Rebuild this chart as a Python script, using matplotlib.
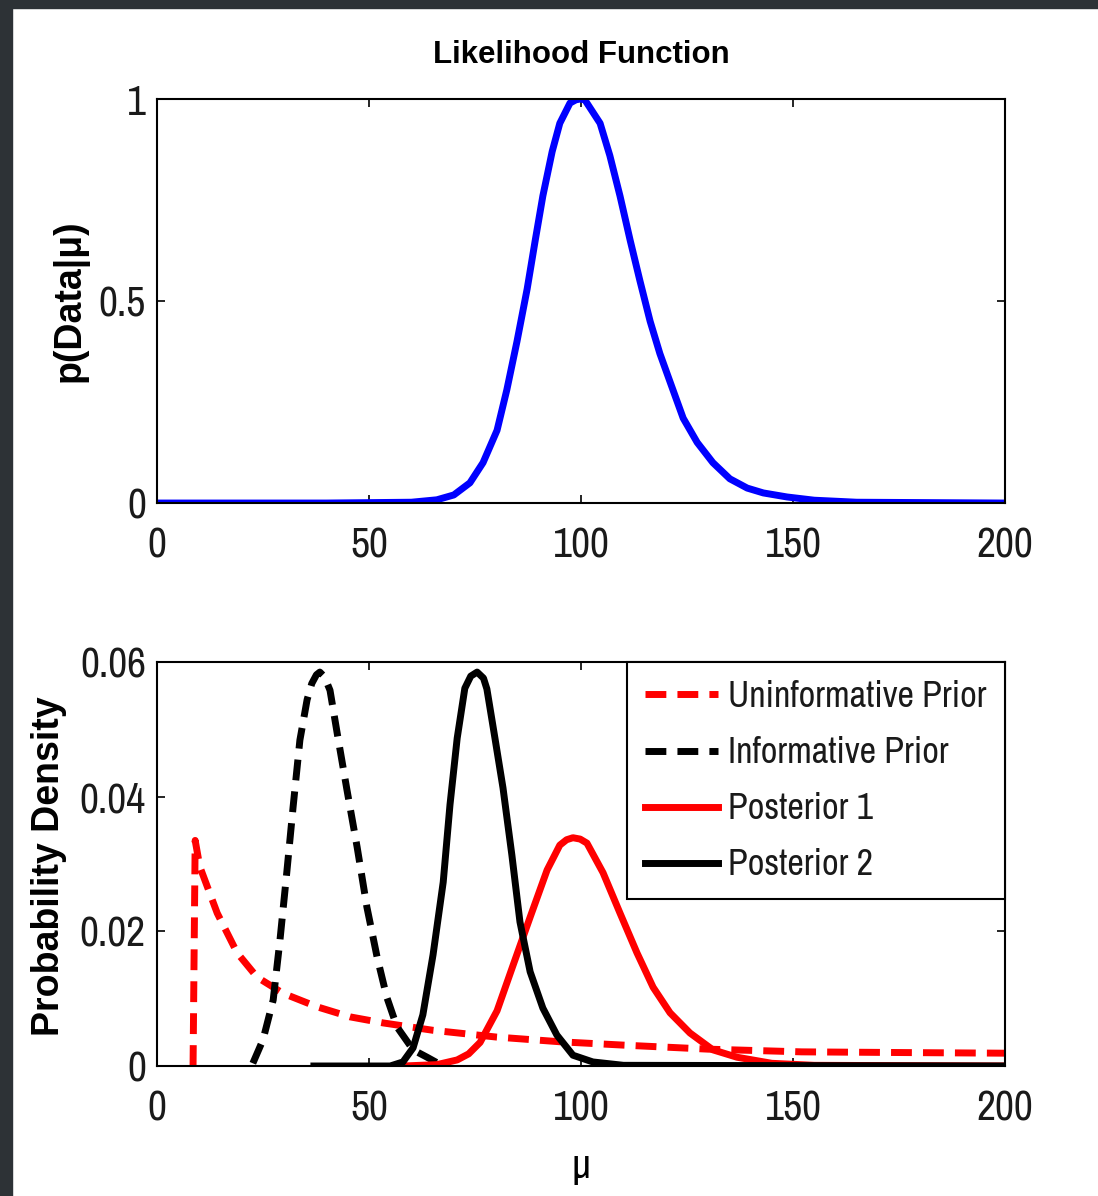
import matplotlib
matplotlib.use("Agg")
import matplotlib.pyplot as plt
from matplotlib.patches import Rectangle

# narrow face like the MATLAB export; Liberation Sans if it is missing
plt.rcParams["font.family"] = ["Archivo Narrow", "Liberation Sans", "DejaVu Sans"]
BOLD = ["Liberation Sans", "DejaVu Sans"]

FRAME = "#2d3236"
TXT = "#1a1a1a"

# likelihood p(Data|mu)
mu_like = [0, 40, 60, 66, 70, 73.8, 76.9, 80.2, 82.5, 84.9, 87.3, 89.2, 91.0, 93.2,
           95.0, 97.4, 98.8, 99.8, 100.9, 101.4, 104.5, 106.8, 109.2, 111.6, 113.9,
           116.3, 118.6, 121.0, 124.1, 127.4, 131.1, 135.1, 139.2, 143.0, 148.6,
           155, 165, 200]
like = [0, 0, 0.002, 0.008, 0.02, 0.05, 0.10, 0.18, 0.28, 0.40, 0.53, 0.65, 0.76, 0.87,
        0.94, 0.99, 0.998, 1.0, 0.998, 0.99, 0.94, 0.86, 0.76, 0.65, 0.55,
        0.45, 0.37, 0.30, 0.21, 0.15, 0.10, 0.06, 0.037, 0.025, 0.015,
        0.007, 0.002, 0]

# bottom panel densities
mu_uninf = [8.5, 9.0, 10.1, 14.2, 18.9, 23.6, 29.7, 37.7, 45.5, 53.3, 65.1, 80,
            95, 110, 130, 152, 175, 200]
uninf = [0, 0.0335, 0.0296, 0.0227, 0.0168, 0.0132, 0.0108, 0.0088, 0.0073, 0.0064,
         0.0053, 0.0043, 0.0036, 0.0031, 0.0025, 0.0021, 0.0020, 0.0019]

mu_inf = [22.6, 25.0, 27.4, 29.0, 30.6, 32.1, 33.7, 35.4, 36.5, 37.6, 38.4, 39.5,
          40.8, 42.5, 44.8, 47.2, 49.5, 51.9, 54.2, 56.6, 60.4, 63.7, 66]
inf = [0.0004, 0.0039, 0.0098, 0.0187, 0.0287, 0.0385, 0.0484, 0.0544, 0.0568,
       0.0581, 0.0585, 0.0578, 0.0558, 0.0494, 0.041, 0.0325, 0.0236, 0.0162,
       0.0102, 0.0058, 0.0024, 0.0013, 0.0005]

mu_post1 = [58, 66, 70.8, 73.5, 76.2, 80.2, 84.0, 88.0, 92.0, 95.0, 96.6, 98.1,
            99.8, 101.4, 105.2, 109.2, 113.2, 117.0, 121.0, 125.7, 131.1, 136.8,
            145, 155, 200]
post1 = [0, 0.0002, 0.0009, 0.0018, 0.0035, 0.0082, 0.015, 0.0221, 0.0291, 0.0328,
         0.0336, 0.0339, 0.0337, 0.0331, 0.0287, 0.0227, 0.0168, 0.0117, 0.0079,
         0.0049, 0.0024, 0.0013, 0.0004, 0.0001, 0]

mu_post2 = [37, 55, 58.0, 60.4, 62.7, 65.1, 67.5, 69.1, 70.8, 72.6, 74.0, 75.5,
            77.0, 77.8, 79.7, 81.6, 83.7, 85.6, 88.0, 91.0, 94.3, 98.1, 102.8,
            110, 200]
post2 = [0, 0, 0.0006, 0.0027, 0.0076, 0.0165, 0.0273, 0.0388, 0.0487, 0.0561,
         0.0579, 0.0585, 0.0576, 0.056, 0.0487, 0.0413, 0.0313, 0.0214, 0.014,
         0.0086, 0.0046, 0.0016, 0.0006, 0.0001, 0]

x_ticks = [0, 50, 100, 150, 200]
top_yticks = [0, 0.5, 1]
bot_yticks = [0, 0.02, 0.04, 0.06]

fig = plt.figure(figsize=(10.98, 11.96), dpi=100)
fig.patch.set_facecolor("white")
# dark window border along top and left
fig.patches.append(Rectangle((0, 1 - 8 / 1196), 1, 8 / 1196, transform=fig.transFigure,
                             color=FRAME, zorder=0))
fig.patches.append(Rectangle((0, 0), 12 / 1098, 1, transform=fig.transFigure,
                             color=FRAME, zorder=0))

ax1 = fig.add_axes([0.143, 0.5794, 0.7723, 0.3378])
ax2 = fig.add_axes([0.143, 0.1087, 0.7723, 0.3378])


def style(ax, yticks, ylim):
    ax.set_xlim(0, 200)
    ax.set_ylim(*ylim)
    ax.set_xticks(x_ticks)
    ax.set_yticks(yticks)
    ax.set_yticklabels([f"{v:g}" for v in yticks])
    ax.tick_params(direction="in", length=6, width=1.2, top=True, right=True,
                   labelsize=30, labelcolor=TXT)
    ax.tick_params(axis="x", pad=17)
    ax.tick_params(axis="y", pad=8)
    for s in ax.spines.values():
        s.set_linewidth(1.5)
        s.set_zorder(5)


ax1.plot(mu_like, like, color="#0000ff", lw=5, solid_joinstyle="round")
style(ax1, top_yticks, (0, 1))
ax1.set_title("Likelihood Function", fontsize=22.5, fontweight="bold",
              family=BOLD, pad=26)
ax1.set_ylabel("p(Data|μ)", fontsize=27, fontweight="bold", family=BOLD)
ax1.yaxis.set_label_coords(-0.081, 0.5)

ax2.plot(mu_uninf, uninf, color="red", lw=5, ls=(0, (3, 1.6)),
         label="Uninformative Prior")
ax2.plot(mu_inf, inf, color="black", lw=5, ls=(0, (3, 1.6)),
         label="Informative Prior")
ax2.plot(mu_post1, post1, color="red", lw=5, label="Posterior 1")
ax2.plot(mu_post2, post2, color="black", lw=5, label="Posterior 2")
style(ax2, bot_yticks, (0, 0.06))
ax2.set_ylabel("Probability Density", fontsize=27, fontweight="bold", family=BOLD)
ax2.yaxis.set_label_coords(-0.106, 0.495)
ax2.set_xlabel("μ", fontsize=30)
ax2.xaxis.set_label_coords(0.5, -0.20)

leg = ax2.legend(loc="upper right", fontsize=26, frameon=True, fancybox=False,
                 edgecolor="black", framealpha=1, borderaxespad=0, borderpad=0.5,
                 handlelength=2.0, handletextpad=0.3, labelspacing=0.64)
leg.get_frame().set_linewidth(1.5)
for t in leg.get_texts():
    t.set_color(TXT)

fig.savefig("out.png", dpi=100, facecolor=fig.get_facecolor())
